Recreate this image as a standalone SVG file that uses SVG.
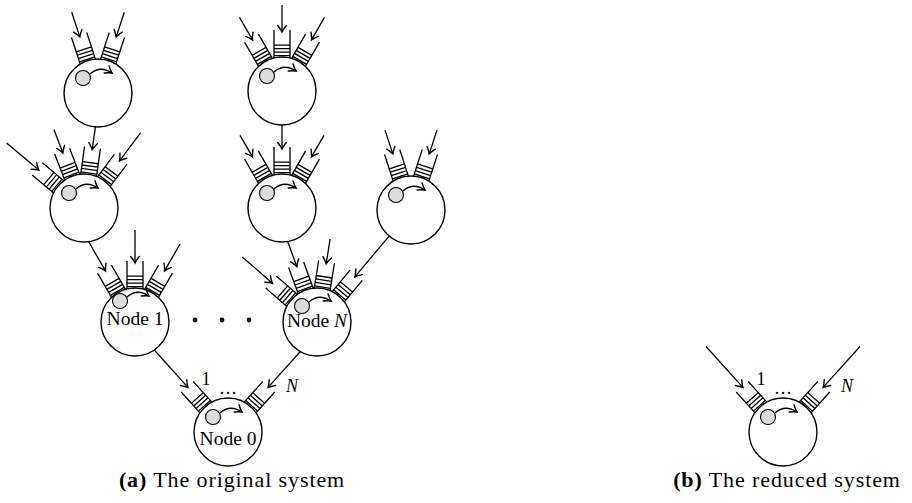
<svg xmlns="http://www.w3.org/2000/svg" width="912" height="503" viewBox="0 0 912 503">
<style>
.body{fill:#fff;stroke:#000;stroke-width:1.4}
.tk{fill:#dcdcdc;stroke:#000;stroke-width:1.1}
.q{fill:none;stroke:#000;stroke-width:1.3}
.arr{fill:none;stroke:#000;stroke-width:1.3;marker-end:url(#ah)}
.lbl{font-family:"Liberation Serif","Times New Roman",serif;font-size:19.5px;fill:#000}
.sm{font-family:"Liberation Serif","Times New Roman",serif;font-size:18px;fill:#000}
.cap{font-family:"Liberation Serif","Times New Roman",serif;font-size:22px;letter-spacing:0.9px;fill:#000}
.it{font-style:italic}
.dot{fill:#000}
</style>
<defs>
<marker id="ah" markerUnits="userSpaceOnUse" markerWidth="10" markerHeight="12" viewBox="-8 -6 10 12" refX="0" refY="0" orient="auto">
<path d="M -6.5 -4.3 Q -2.5 -1.1 0 0 Q -2.5 1.1 -6.5 4.3" fill="none" stroke="#000" stroke-width="1.4" stroke-linecap="round"/>
</marker>
<path id="q" d="M -8 -61 V -33 M 8 -61 V -33 M -8 -35.3 H 8 M -8 -38.8 H 8 M -8 -42.3 H 8 M -8 -45.8 H 8"/>
<circle id="srv" r="34"/>
<g id="tok">
<circle class="tk" cx="-15" cy="-15" r="7.5"/>
<path class="arr" d="M -8 -19 Q 2 -28 14 -20"/>
</g>
</defs>

<g id="connectors">
<path class="arr" d="M 71.7 12.2 L 79.8 36.9"/>
<path class="arr" d="M 124.3 12.2 L 116.2 36.9"/>
<path class="arr" d="M 239.5 17.4 L 252.5 39.9"/>
<path class="arr" d="M 282 5 L 282 32"/>
<path class="arr" d="M 324.5 17.4 L 311.5 39.9"/>
<path class="arr" d="M 6.6 143.1 L 38.8 170.1"/>
<path class="arr" d="M 53.9 129.6 L 62.9 152.9"/>
<path class="arr" d="M 95.4 126.8 L 92.2 149.6"/>
<path class="arr" d="M 140.6 132.9 L 119.5 160.9"/>
<path class="arr" d="M 240 135.3 L 252.5 156.9"/>
<path class="arr" d="M 282 125 L 282 149"/>
<path class="arr" d="M 324 135.3 L 311.5 156.9"/>
<path class="arr" d="M 385 130.1 L 392.8 153.9"/>
<path class="arr" d="M 437 130.1 L 429.2 153.9"/>
<path class="arr" d="M 88.7 241.8 L 105.5 270.9"/>
<path class="arr" d="M 135 230 L 135 263"/>
<path class="arr" d="M 180 244.1 L 164.5 270.9"/>
<path class="arr" d="M 242.3 257 L 272.5 283.3"/>
<path class="arr" d="M 287.7 241.5 L 296.8 266.6"/>
<path class="arr" d="M 330.1 239 L 326.2 263.7"/>
<path class="arr" d="M 389.3 235.8 L 354.9 276.8"/>
<path class="arr" d="M 154.3 350 L 187.9 387.4"/>
<path class="arr" d="M 300.2 351.7 L 268.1 387.4"/>
<path class="arr" d="M 706 346.5 L 742.9 387.4"/>
<path class="arr" d="M 860 346.5 L 823.1 387.4"/>
</g>

<g id="nodeA" transform="translate(98,93)">
<use href="#srv" class="body"/><use href="#tok"/>
<use href="#q" class="q" transform="rotate(-18)"/><use href="#q" class="q" transform="rotate(18)"/>
</g>
<g id="nodeC" transform="translate(282,91)">
<use href="#srv" class="body"/><use href="#tok"/>
<use href="#q" class="q" transform="rotate(-30)"/><use href="#q" class="q"/><use href="#q" class="q" transform="rotate(30)"/>
</g>
<g id="nodeB" transform="translate(84,208)">
<use href="#srv" class="body"/><use href="#tok"/>
<use href="#q" class="q" transform="rotate(-50)"/><use href="#q" class="q" transform="rotate(-21)"/><use href="#q" class="q" transform="rotate(8)"/><use href="#q" class="q" transform="rotate(37)"/>
</g>
<g id="nodeD" transform="translate(282,208)">
<use href="#srv" class="body"/><use href="#tok"/>
<use href="#q" class="q" transform="rotate(-30)"/><use href="#q" class="q"/><use href="#q" class="q" transform="rotate(30)"/>
</g>
<g id="nodeE" transform="translate(411,210)">
<use href="#srv" class="body"/><use href="#tok"/>
<use href="#q" class="q" transform="rotate(-18)"/><use href="#q" class="q" transform="rotate(18)"/>
</g>
<g id="node1" transform="translate(135,322)">
<use href="#srv" class="body"/><use href="#tok" transform="translate(0,-6)"/>
<use href="#q" class="q" transform="rotate(-30)"/><use href="#q" class="q"/><use href="#q" class="q" transform="rotate(30)"/>
<text class="lbl" x="0" y="3" text-anchor="middle">Node 1</text>
</g>
<g id="nodeN" transform="translate(317,322)">
<use href="#srv" class="body"/><use href="#tok" transform="translate(0,-1)"/>
<use href="#q" class="q" transform="rotate(-49)"/><use href="#q" class="q" transform="rotate(-20)"/><use href="#q" class="q" transform="rotate(9)"/><use href="#q" class="q" transform="rotate(40)"/>
<text class="lbl" x="0" y="5" text-anchor="middle">Node <tspan class="it">N</tspan></text>
</g>
<g id="node0" transform="translate(228,432)">
<use href="#srv" class="body"/><use href="#tok"/>
<use href="#q" class="q" transform="rotate(-42)"/><use href="#q" class="q" transform="rotate(42)"/>
<text class="lbl" x="0" y="13" text-anchor="middle">Node 0</text>
<text class="sm" x="-22" y="-47" text-anchor="middle">1</text>
<text class="sm" x="0" y="-38" text-anchor="middle">…</text>
<text class="sm it" x="58" y="-40">N</text>
</g>
<g id="nodeR" transform="translate(783,432)">
<use href="#srv" class="body"/><use href="#tok"/>
<use href="#q" class="q" transform="rotate(-42)"/><use href="#q" class="q" transform="rotate(42)"/>
<text class="sm" x="-22" y="-47" text-anchor="middle">1</text>
<text class="sm" x="0" y="-38" text-anchor="middle">…</text>
<text class="sm it" x="58" y="-40">N</text>
</g>

<g id="ellipsis">
<circle class="dot" cx="195" cy="320" r="2.4"/>
<circle class="dot" cx="222" cy="320" r="2.4"/>
<circle class="dot" cx="249" cy="320" r="2.4"/>
</g>

<text class="cap" x="232" y="487" text-anchor="middle"><tspan font-weight="bold">(a)</tspan> The original system</text>
<text class="cap" x="787" y="487" text-anchor="middle"><tspan font-weight="bold">(b)</tspan> The reduced system</text>
</svg>
